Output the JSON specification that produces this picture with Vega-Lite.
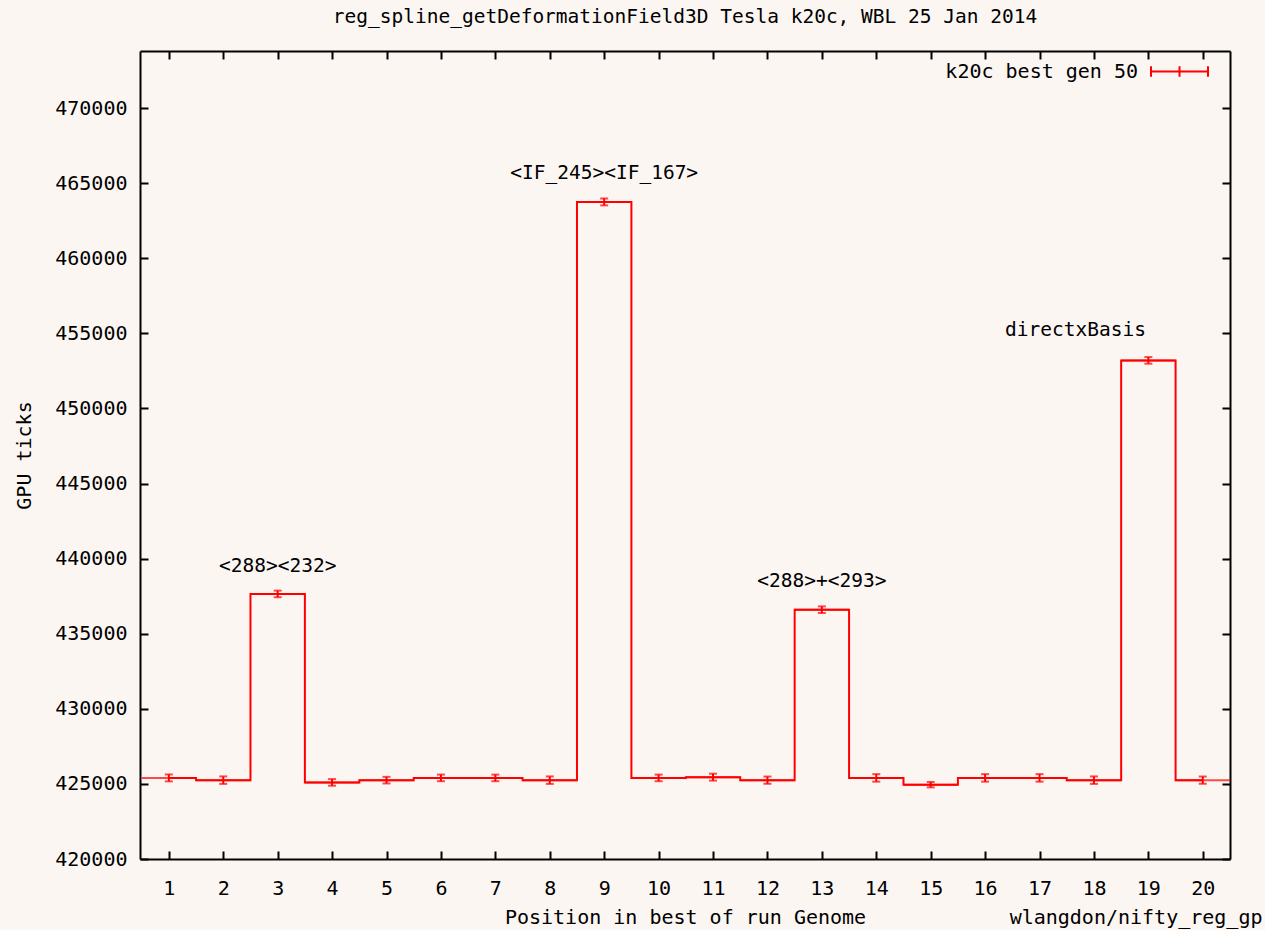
{
  "$schema": "https://vega.github.io/schema/vega-lite/v6.json",
  "width": 1090,
  "height": 808,
  "autosize": "none",
  "padding": {"left": 140, "top": 51, "right": 35, "bottom": 71},
  "background": "#fcf6f3",
  "title": {
    "text": "reg_spline_getDeformationField3D Tesla k20c, WBL 25 Jan 2014",
    "font": "DejaVu Sans Mono",
    "fontSize": 19.5,
    "fontWeight": "normal",
    "color": "#000000",
    "anchor": "middle",
    "baseline": "alphabetic",
    "offset": 0
  },
  "config": {
    "view": {"stroke": null},
    "axis": {
      "grid": false,
      "domainColor": "#000000",
      "domainWidth": 2,
      "tickColor": "#000000",
      "tickWidth": 2,
      "tickSize": -8,
      "labelFont": "DejaVu Sans Mono",
      "labelFontSize": 20,
      "labelColor": "#000000",
      "titleFont": "DejaVu Sans Mono",
      "titleFontSize": 20,
      "titleFontWeight": "normal",
      "titleColor": "#000000",
      "labelFlush": false,
      "labelOverlap": false
    }
  },
  "data": {
    "values": [
      {"pos": 1, "val": 425400, "err": 230},
      {"pos": 2, "val": 425250, "err": 250},
      {"pos": 3, "val": 437650, "err": 220},
      {"pos": 4, "val": 425100, "err": 220},
      {"pos": 5, "val": 425250, "err": 220},
      {"pos": 6, "val": 425400, "err": 220},
      {"pos": 7, "val": 425400, "err": 220},
      {"pos": 8, "val": 425250, "err": 250},
      {"pos": 9, "val": 463750, "err": 230},
      {"pos": 10, "val": 425400, "err": 220},
      {"pos": 11, "val": 425450, "err": 230},
      {"pos": 12, "val": 425250, "err": 240},
      {"pos": 13, "val": 436600, "err": 220},
      {"pos": 14, "val": 425400, "err": 250},
      {"pos": 15, "val": 424950, "err": 180},
      {"pos": 16, "val": 425400, "err": 250},
      {"pos": 17, "val": 425400, "err": 250},
      {"pos": 18, "val": 425250, "err": 250},
      {"pos": 19, "val": 453200, "err": 220},
      {"pos": 20, "val": 425250, "err": 240}
    ]
  },
  "layer": [
    {
      "mark": {"type": "line", "interpolate": "step", "strokeWidth": 2},
      "encoding": {
        "x": {
          "field": "pos", "type": "quantitative",
          "scale": {"domain": [0.47, 20.5], "nice": false, "zero": false},
          "axis": {
            "orient": "bottom",
            "values": [1,2,3,4,5,6,7,8,9,10,11,12,13,14,15,16,17,18,19,20],
            "title": "Position in best of run Genome",
            "labelPadding": 27,
            "titleBaseline": "alphabetic",
            "titleY": 64
          }
        },
        "y": {
          "field": "val", "type": "quantitative",
          "scale": {"domain": [420000, 473800], "nice": false, "zero": false},
          "axis": {
            "orient": "left",
            "values": [420000,425000,430000,435000,440000,445000,450000,455000,460000,465000,470000],
            "format": "d",
            "title": "GPU ticks",
            "labelPadding": 21,
            "titleAngle": -90,
            "titleBaseline": "alphabetic",
            "titleX": -110,
            "titleY": 404
          }
        },
        "color": {
          "datum": "k20c best gen 50",
          "scale": {"range": ["#ff0000"]},
          "legend": {
            "title": null,
            "orient": "none",
            "legendX": 1010,
            "legendY": -9,
            "padding": 0,
            "symbolType": "M-1,0H1M-1,-0.18V0.18M0,-0.18V0.18M1,-0.18V0.18",
            "symbolSize": 3249,
            "symbolStrokeWidth": 2,
            "symbolStrokeColor": "#ff0000",
            "symbolFillColor": "transparent",
            "labelAlign": "right",
            "labelOffset": -71,
            "labelLimit": 400,
            "labelFont": "DejaVu Sans Mono",
            "labelFontSize": 20,
            "labelColor": "#000000"
          }
        }
      }
    },
    {
      "mark": {"type": "tick", "orient": "horizontal", "size": 54.4, "thickness": 2, "color": "#ff0000", "clip": true},
      "encoding": {
        "x": {
          "field": "pos", "type": "quantitative",
          "scale": {"domain": [0.47, 20.5], "nice": false, "zero": false},
          "axis": {
            "orient": "top",
            "values": [1,2,3,4,5,6,7,8,9,10,11,12,13,14,15,16,17,18,19,20],
            "labels": false,
            "title": null
          }
        },
        "y": {
          "field": "val", "type": "quantitative",
          "scale": {"domain": [420000, 473800], "nice": false, "zero": false},
          "axis": {
            "orient": "right",
            "values": [420000,425000,430000,435000,440000,445000,450000,455000,460000,465000,470000],
            "labels": false,
            "title": "wlangdon/nifty_reg_gp",
            "titleAngle": 0,
            "titleAlign": "right",
            "titleBaseline": "alphabetic",
            "titleX": 32,
            "titleY": 872
          }
        }
      }
    },
    {
      "mark": {
        "type": "errorbar",
        "color": "#ff0000",
        "ticks": {"size": 8, "thickness": 2, "color": "#ff0000"},
        "rule": {"strokeWidth": 2, "color": "#ff0000"}
      },
      "encoding": {
        "x": {"field": "pos", "type": "quantitative", "scale": {"domain": [0.47, 20.5], "nice": false, "zero": false}, "axis": null},
        "y": {"field": "val", "type": "quantitative", "scale": {"domain": [420000, 473800], "nice": false, "zero": false}, "axis": null},
        "yError": {"field": "err"}
      }
    },
    {
      "data": {
        "values": [
          {"lx": 3, "ly": 439500, "label": "<288><232>"},
          {"lx": 9, "ly": 465700, "label": "<IF_245><IF_167>"},
          {"lx": 13, "ly": 438500, "label": "<288>+<293>"},
          {"lx": 17.66, "ly": 455200, "label": "directxBasis"}
        ]
      },
      "mark": {"type": "text", "font": "DejaVu Sans Mono", "fontSize": 19.5, "color": "#000000", "baseline": "middle", "align": "center"},
      "encoding": {
        "x": {"field": "lx", "type": "quantitative", "scale": {"domain": [0.47, 20.5], "nice": false, "zero": false}, "axis": null},
        "y": {"field": "ly", "type": "quantitative", "scale": {"domain": [420000, 473800], "nice": false, "zero": false}, "axis": null},
        "text": {"field": "label"}
      }
    }
  ],
  "resolve": {"axis": {"x": "independent", "y": "independent"}}
}
